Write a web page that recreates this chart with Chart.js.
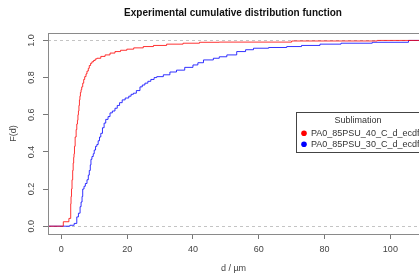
<!DOCTYPE html>
<html>
<head>
<meta charset="utf-8">
<script src="https://cdn.jsdelivr.net/npm/chart.js@4.4.1/dist/chart.umd.min.js"></script>
<style>
  html, body { margin: 0; padding: 0; background: #fff; }
  canvas { display: block; }
</style>
</head>
<body>
<canvas id="ecdf" width="419" height="274"></canvas>
<script>
const FONT = '"Liberation Sans", Arial, sans-serif';

const chartTitle = 'Experimental cumulative distribution function';
const legendTitle = 'Sublimation';
const xTicks = [0, 20, 40, 60, 80, 100];
const yTicks = [0, 0.2, 0.4, 0.6, 0.8, 1.0];

// PA0_85PSU_40_C_d_ecdf (red)
const redLabel = 'PA0_85PSU_40_C_d_ecdf';
const redX = [-10, 0.6, 2.3, 2.85, 2.95, 3.1, 3.25, 3.45, 3.6, 3.75, 3.86, 4.0, 4.2, 4.5, 4.7, 4.9, 5.05, 5.2, 5.35, 5.5,
    5.65, 5.8, 6.0, 6.2, 6.5, 6.8, 7.1, 7.5, 7.8, 8.2, 8.5, 8.9, 9.3, 9.8, 10.3, 10.8, 12, 13.3, 14.8, 16.3,
    18, 19.9, 22, 24.9, 28, 32, 37, 42, 48, 70, 96, 120];
const redY = [0, 0.024, 0.042, 0.12, 0.16, 0.2, 0.25, 0.30, 0.34, 0.37, 0.39, 0.43, 0.48, 0.52, 0.55, 0.57, 0.60, 0.62, 0.65, 0.68,
    0.70, 0.72, 0.735, 0.75, 0.77, 0.79, 0.805, 0.82, 0.835, 0.85, 0.865, 0.877, 0.885, 0.892, 0.90, 0.904, 0.914, 0.922, 0.932, 0.94,
    0.947, 0.953, 0.96, 0.967, 0.973, 0.98, 0.985, 0.99, 0.991, 0.997, 1.0, 1.0];

// PA0_85PSU_30_C_d_ecdf (blue)
const blueLabel = 'PA0_85PSU_30_C_d_ecdf';
const blueX = [-10, 2.6, 3.9, 4.7, 5.2, 5.7, 6.0, 6.3, 6.5, 6.9, 7.3, 7.8, 8.2, 8.5, 8.8, 9.0, 9.3, 9.7, 10.0, 10.4,
    10.8, 11.2, 11.6, 12.0, 12.5, 13.0, 13.5, 14.2, 14.8, 15.5, 16.3, 17, 17.7, 18.5, 19.4, 20.5, 21.2, 21.9, 22.8, 23.9,
    24.6, 25.4, 26.3, 27.2, 28.2, 29, 31, 33, 35, 37.5, 40, 41.5, 43.2, 46.2, 48, 50.3, 53.3, 56, 58.4, 63,
    68.5, 73, 78.6, 85, 94.5, 105.5, 120];
const blueY = [0, 0.005, 0.015, 0.05, 0.07, 0.105, 0.13, 0.16, 0.2, 0.215, 0.23, 0.25, 0.275, 0.30, 0.33, 0.36, 0.375, 0.39, 0.41, 0.43,
    0.44, 0.46, 0.48, 0.50, 0.53, 0.555, 0.575, 0.59, 0.61, 0.62, 0.635, 0.65, 0.665, 0.68, 0.69, 0.70, 0.71, 0.716, 0.73, 0.75,
    0.76, 0.77, 0.78, 0.79, 0.80, 0.805, 0.815, 0.83, 0.84, 0.855, 0.868, 0.88, 0.895, 0.904, 0.912, 0.922, 0.94, 0.95, 0.958, 0.962,
    0.967, 0.973, 0.98, 0.985, 0.99, 1.0, 1.0];

const toPoints = (xs, ys) => xs.map((x, i) => ({x: x, y: ys[i]}));

// R-style extras: box, dashed h-lines at 0 and 1, rotated y labels, title, legend
const rStyle = {
    id: 'rStyle',
    beforeDatasetsDraw(chart) {
        const {ctx, chartArea: a, scales: {y}} = chart;
        ctx.save();
        ctx.strokeStyle = '#c4c4c4';
        ctx.lineWidth = 1;
        ctx.setLineDash([3, 3]);
        [0, 1].forEach((v) => {
            const py = Math.round(y.getPixelForValue(v)) + 0.5;
            ctx.beginPath();
            ctx.moveTo(a.left, py);
            ctx.lineTo(a.right, py);
            ctx.stroke();
        });
        ctx.restore();
    },
    afterDraw(chart) {
        const {ctx, chartArea: a, scales: {y}} = chart;
        ctx.save();
        // plot box
        ctx.strokeStyle = '#8a8a8a';
        ctx.lineWidth = 1;
        ctx.strokeRect(a.left + 0.5, a.top + 0.5, a.right - a.left + 10, a.bottom - a.top);

        // y tick labels, rotated like R
        ctx.fillStyle = '#444';
        ctx.font = '9px ' + FONT;
        ctx.textAlign = 'center';
        ctx.textBaseline = 'middle';
        yTicks.forEach((v) => {
            ctx.save();
            ctx.translate(31.5, y.getPixelForValue(v));
            ctx.rotate(-Math.PI / 2);
            ctx.fillText(v.toFixed(1), 0, 0);
            ctx.restore();
        });

        // title
        ctx.fillStyle = '#111';
        ctx.font = 'bold 10px ' + FONT;
        ctx.fillText(chartTitle, 233, 13);

        // legend
        const lx = 296, ly = 112.5;
        ctx.strokeStyle = '#444';
        ctx.strokeRect(lx + 0.5, ly, 140, 40);
        ctx.fillStyle = '#333';
        ctx.font = '9px ' + FONT;
        ctx.fillText(legendTitle, 358, 120.5);
        ctx.textAlign = 'left';
        chart.data.datasets.forEach((ds, i) => {
            const cy = 133.3 + i * 11;
            ctx.fillStyle = ds.pointColor;
            ctx.beginPath();
            ctx.arc(304, cy, 2.8, 0, Math.PI * 2);
            ctx.fill();
            ctx.fillStyle = '#333';
            ctx.fillText(ds.label, 311, cy);
        });
        ctx.restore();
    }
};

new Chart(document.getElementById('ecdf'), {
    type: 'line',
    data: {
        datasets: [
            {
                label: redLabel,
                data: toPoints(redX, redY),
                borderColor: 'rgba(255,0,0,0.8)',
                pointColor: '#ff0000',
                borderWidth: 1,
                pointRadius: 0,
                stepped: 'before',
                fill: false
            },
            {
                label: blueLabel,
                data: toPoints(blueX, blueY),
                borderColor: 'rgba(0,0,255,0.8)',
                pointColor: '#0000ff',
                borderWidth: 1,
                pointRadius: 0,
                stepped: 'before',
                fill: false
            }
        ]
    },
    options: {
        responsive: false,
        animation: false,
        layout: {padding: {top: 33, left: 0, right: 0, bottom: 0}},
        plugins: {
            legend: {display: false},
            title: {display: false},
            tooltip: {enabled: false}
        },
        scales: {
            x: {
                type: 'linear',
                min: -4.05,
                max: 108.7,
                afterFit: (s) => { s.height = 40; },
                afterBuildTicks: (s) => { s.ticks = xTicks.map((v) => ({value: v})); },
                grid: {drawOnChartArea: false, tickLength: 5, color: '#777'},
                border: {display: false},
                ticks: {
                    padding: 5,
                    maxRotation: 0,
                    color: '#444',
                    font: {size: 9, family: FONT}
                },
                title: {
                    display: true,
                    text: 'd / µm',
                    color: '#444',
                    font: {size: 9, family: FONT},
                    padding: {top: 0, bottom: 0}
                }
            },
            y: {
                type: 'linear',
                min: -0.042,
                max: 1.04,
                afterFit: (s) => { s.width = 48; },
                afterBuildTicks: (s) => { s.ticks = yTicks.map((v) => ({value: v})); },
                grid: {drawOnChartArea: false, tickLength: 5, color: '#777'},
                border: {display: false},
                ticks: {color: 'rgba(0,0,0,0)', font: {size: 9, family: FONT}},
                title: {
                    display: true,
                    text: 'F(d)',
                    color: '#444',
                    font: {size: 9, family: FONT},
                    padding: {top: 8, bottom: 0}
                }
            }
        }
    },
    plugins: [rStyle]
});
</script>
</body>
</html>
